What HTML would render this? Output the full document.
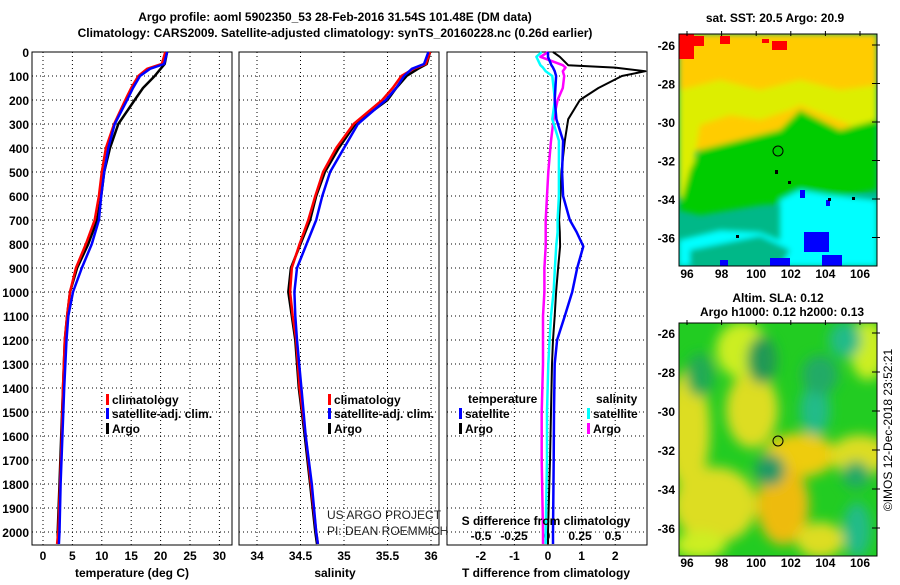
<!DOCTYPE html>
<html><head><meta charset="utf-8">
<style>
body{margin:0;background:#fff;}
svg text{font-family:"Liberation Sans",sans-serif;font-weight:bold;font-size:12px;fill:#000;}
</style></head>
<body>
<svg id="c" width="900" height="580" xmlns="http://www.w3.org/2000/svg">
<defs>
<filter id="bl" x="-20%" y="-20%" width="140%" height="140%"><feGaussianBlur stdDeviation="6"/></filter>
<filter id="bl2"><feGaussianBlur stdDeviation="3"/></filter>
<clipPath id="m1"><rect x="679" y="34" width="198" height="232"/></clipPath>
<clipPath id="m2"><rect x="679" y="323" width="198" height="233"/></clipPath>
</defs>
<text x="335" y="21" text-anchor="middle">Argo profile: aoml 5902350_53 28-Feb-2016 31.54S 101.48E (DM data)</text>
<text x="335" y="37" text-anchor="middle">Climatology: CARS2009. Satellite-adjusted climatology: synTS_20160228.nc (0.26d earlier)</text>

<g clip-path="url(#m1)">
<rect x="679" y="34" width="198" height="232" fill="#00b888"/>
<g filter="url(#bl2)">
<polygon points="679,34 877,34 877,130 840,140 800,120 780,130 740,140 700,150 679,160" fill="#ffcc00"/>
<polygon points="679,90 720,80 760,90 800,80 840,90 877,85 877,140 850,125 800,105 790,110 760,120 730,115 700,125 690,190 679,200" fill="#ddee00"/>
<polygon points="679,210 690,170 700,150 740,140 780,130 800,110 840,130 877,120 877,190 820,200 760,205 700,215" fill="#00cc00"/>
<polygon points="780,200 800,190 830,195 877,200 877,266 780,266" fill="#00ffff"/>
<polygon points="679,240 720,230 760,232 780,240 780,266 679,266" fill="#00ffff"/>
<polygon points="690,250 760,236 790,250 780,266 690,266" fill="#00b888"/>
</g>
<rect x="679" y="34" width="15" height="25" fill="#ff0000"/><rect x="694" y="36" width="10" height="10" fill="#ff0000"/>
<rect x="720" y="36" width="10" height="8" fill="#ff0000"/><rect x="772" y="41" width="15" height="9" fill="#ff0000"/><rect x="762" y="39" width="7" height="4" fill="#ff0000"/>
<rect x="804" y="232" width="25" height="20" fill="#0000ff"/><rect x="822" y="255" width="20" height="11" fill="#0000ff"/><rect x="770" y="258" width="20" height="8" fill="#0000ff"/>
<rect x="800" y="190" width="5" height="8" fill="#0000ff"/><rect x="826" y="200" width="4" height="6" fill="#0000ff"/><rect x="720" y="260" width="8" height="6" fill="#0000ff"/>
<rect x="775" y="170" width="3" height="4" fill="#000"/><rect x="788" y="181" width="3" height="3" fill="#000"/><rect x="828" y="198" width="3" height="3" fill="#000"/><rect x="852" y="197" width="3" height="3" fill="#000"/><rect x="736" y="235" width="3" height="3" fill="#000"/>
</g>
<rect x="679" y="34" width="198" height="232" fill="none" stroke="#000"/>
<circle cx="778" cy="151" r="5" fill="none" stroke="#000"/>
<text x="775" y="22" text-anchor="middle">sat. SST: 20.5 Argo: 20.9</text>

<g clip-path="url(#m2)">
<rect x="679" y="323" width="198" height="233" fill="#22cc22"/>
<g filter="url(#bl)">
<ellipse cx="688" cy="430" rx="22" ry="60" fill="#dddd22"/>
<ellipse cx="742" cy="350" rx="26" ry="28" fill="#ccee22"/>
<ellipse cx="752" cy="410" rx="26" ry="38" fill="#dddd22"/>
<ellipse cx="800" cy="455" rx="36" ry="22" fill="#eecc11"/>
<ellipse cx="715" cy="505" rx="42" ry="38" fill="#dddd22"/>
<ellipse cx="783" cy="505" rx="26" ry="40" fill="#eebb11"/>
<ellipse cx="860" cy="455" rx="30" ry="20" fill="#dddd22"/>
<ellipse cx="868" cy="350" rx="18" ry="30" fill="#ccee22"/>
<ellipse cx="700" cy="545" rx="26" ry="14" fill="#ccee22"/>
<ellipse cx="820" cy="540" rx="24" ry="18" fill="#dddd22"/>
<ellipse cx="762" cy="360" rx="15" ry="24" fill="#229955"/>
<ellipse cx="815" cy="410" rx="15" ry="26" fill="#22bb88"/>
<ellipse cx="845" cy="340" rx="16" ry="18" fill="#22bb88"/>
<ellipse cx="770" cy="470" rx="15" ry="16" fill="#229966"/>
<ellipse cx="857" cy="530" rx="14" ry="28" fill="#22bb88"/>
<ellipse cx="700" cy="375" rx="14" ry="22" fill="#22aa55"/>
<ellipse cx="820" cy="375" rx="18" ry="20" fill="#22aa66"/>
<ellipse cx="856" cy="475" rx="14" ry="14" fill="#22aa66"/>
</g>
</g>
<rect x="679" y="323" width="198" height="233" fill="none" stroke="#000"/>
<circle cx="778" cy="441" r="5" fill="none" stroke="#000"/>
<text x="778" y="302" text-anchor="middle">Altim. SLA: 0.12</text>
<text x="782" y="316" text-anchor="middle">Argo h1000: 0.12 h2000: 0.13</text>
<text transform="translate(892,430) rotate(-90)" text-anchor="middle" style="font-weight:normal;font-size:12px">©IMOS 12-Dec-2018 23:52:21</text>
<g id="mapaxes"></g>
<g id="plots"></g>
</svg>
<script>
// depth levels (dbar)
const depths=[0,50,70,100,150,200,300,400,500,600,700,800,900,1000,1100,1200,1400,1600,1800,2000,2050];
// temperature (deg C)
const tempClim=[20.8,20.2,17.7,16.2,15.0,14.0,12.1,10.7,10.0,9.5,8.8,7.3,5.6,4.6,4.1,3.7,3.4,3.2,2.9,2.6,2.4];
const tempSat=[21.1,20.6,18.2,16.5,15.3,14.3,12.2,11.1,10.4,9.9,9.5,8.3,6.6,5.1,4.3,4.0,3.6,3.3,3.0,2.8,2.7];
const tempArgo=[21.1,20.7,20.0,19.0,17.0,15.6,12.8,11.4,10.4,9.9,9.2,7.7,5.8,4.6,4.1,3.7,3.4,3.1,2.8,2.5,2.5];
// salinity
const salClim=[35.99,35.94,35.80,35.66,35.56,35.44,35.11,34.91,34.76,34.67,34.59,34.49,34.40,34.38,34.41,34.45,34.49,34.56,34.62,34.68,34.70];
const salSat=[35.97,35.92,35.78,35.69,35.60,35.48,35.16,35.00,34.84,34.75,34.68,34.57,34.46,34.43,34.44,34.46,34.51,34.56,34.63,34.68,34.70];
const salArgo=[35.99,35.95,35.85,35.72,35.60,35.50,35.13,34.94,34.78,34.68,34.61,34.50,34.39,34.36,34.40,34.44,34.48,34.55,34.61,34.67,34.69];
// differences from climatology
const diffDepths=[0,20,55,65,80,100,150,200,280,370,500,600,700,750,810,900,1000,1100,1200,1300,1500,1700,2000,2050];
const dTArgo=[0.15,0.35,0.6,2.0,2.9,2.2,1.5,0.95,0.6,0.5,0.4,0.37,0.33,0.35,0.36,0.3,0.24,0.2,0.15,0.12,0.09,0.06,0.0,0.0];
const dTSat=[0.0,0.0,0.1,0.15,0.2,0.24,0.22,0.2,0.25,0.45,0.42,0.45,0.65,0.85,1.05,0.87,0.72,0.5,0.27,0.2,0.18,0.17,0.15,0.15];
const dSArgo=[0.01,-0.05,0.12,0.14,0.12,0.13,0.12,0.08,0.05,0.03,0.01,0.0,-0.01,-0.01,-0.01,-0.02,-0.02,-0.03,-0.03,-0.03,-0.04,-0.04,-0.03,-0.03];
const dSSat=[-0.04,-0.08,-0.05,-0.03,-0.01,0.04,0.05,0.06,0.04,0.09,0.09,0.09,0.08,0.08,0.07,0.06,0.05,0.03,0.02,0.01,0.0,0.0,-0.01,-0.01];
// tick labels
const depthTicks=[0,100,200,300,400,500,600,700,800,900,1000,1100,1200,1300,1400,1500,1600,1700,1800,1900,2000];
const tempTicks=[0,5,10,15,20,25,30];
const salTicks=[34,34.5,35,35.5,36];
const dTTicks=[-2,-1,0,1,2];
const dSTicks=[-0.5,-0.25,0,0.25,0.5];
const latTicks=[-26,-28,-30,-32,-34,-36];
const lonTicks=[96,98,100,102,104,106];

const NS='http://www.w3.org/2000/svg';
const P=document.getElementById('plots');
function mk(tag,at,parent){const e=document.createElementNS(NS,tag);for(const k in at)e.setAttribute(k,at[k]);(parent||P).appendChild(e);return e;}
const yTop=52,yBot=545;
const yD=d=>yTop+0.24*d;
const xT=t=>43+5.88*t;
const xS=s=>257+87*(s-34);
const xDT=t=>548+33.6*t;
const xDS=s=>547+132*s;
const panels=[[32,232],[239,439],[447,647]];
panels.forEach(p=>{
  depthTicks.forEach(d=>{const l=mk('line',{x1:p[0],x2:p[1],y1:yD(d),y2:yD(d),stroke:'#000','stroke-dasharray':'1,3','stroke-width':1});
  
  });
});
tempTicks.forEach(t=>{const l=mk('line',{x1:xT(t),x2:xT(t),y1:yTop,y2:yBot,stroke:'#000','stroke-dasharray':'1,3'});


const tx=mk('text',{x:xT(t),y:560,'text-anchor':'middle'});tx.textContent=t;

});
salTicks.forEach(s=>{const l=mk('line',{x1:xS(s),x2:xS(s),y1:yTop,y2:yBot,stroke:'#000','stroke-dasharray':'1,3'});


const tx=mk('text',{x:xS(s),y:560,'text-anchor':'middle'});tx.textContent=s;

});
dTTicks.forEach(t=>{const l=mk('line',{x1:xDT(t),x2:xDT(t),y1:yTop,y2:yBot,stroke:'#000','stroke-dasharray':'1,3'});


const tx=mk('text',{x:xDT(t),y:560,'text-anchor':'middle'});tx.textContent=t;

});
dSTicks.forEach(s=>{const tx=mk('text',{x:xDS(s),y:540,'text-anchor':'middle'});tx.textContent=s;

});
depthTicks.forEach(d=>{const tx=mk('text',{x:29,y:yD(d)+5,'text-anchor':'end'});tx.textContent=d;

});
panels.forEach(p=>{const r=mk('rect',{x:p[0],y:yTop,width:p[1]-p[0],height:yBot-yTop,fill:'none',stroke:'#000'});

});
function line(xs,ys,fx,color,name,w){
  const pts=xs.map((v,i)=>fx(v).toFixed(1)+','+yD(ys[i]).toFixed(1)).join(' ');
  const pl=mk('polyline',{points:pts,fill:'none',stroke:color,'stroke-width':w||2.5,'stroke-linejoin':'round'});
  
  
}
line(tempArgo,depths,xT,'#000','temp-argo-line');
line(tempClim,depths,xT,'#f00','temp-climatology-line');
line(tempSat,depths,xT,'#00f','temp-satellite-line');
line(salArgo,depths,xS,'#000','salinity-argo-line');
line(salClim,depths,xS,'#f00','salinity-climatology-line');
line(salSat,depths,xS,'#00f','salinity-satellite-line');
line(dTArgo,diffDepths,xDT,'#000','tdiff-argo-line',2);
line(dSArgo,diffDepths,xDS,'#f0f','sdiff-argo-line');
line(dSSat,diffDepths,xDS,'#0ff','sdiff-satellite-line');
line(dTSat,diffDepths,xDT,'#00f','tdiff-satellite-line');
function txt(x,y,s,name,anchor,style){const t=mk('text',{x:x,y:y,'text-anchor':anchor||'start'});if(style)t.setAttribute('style',style);t.textContent=s;

return t;}
function leg(x,y,color,label,name){const r=mk('rect',{x:x,y:y-10,width:3,height:11,fill:color});


txt(x+6,y,label,name);}
[106,328].forEach((px,i)=>{const pre=i?'salinity':'temp';
leg(px,404,'#f00','climatology',pre+'-legend-climatology');
leg(px,418,'#00f','satellite-adj. clim.',pre+'-legend-satellite');
leg(px,433,'#000','Argo',pre+'-legend-argo');});
txt(468,403,'temperature','diff-legend-temperature-header');
leg(459,418,'#00f','satellite','diff-legend-temp-satellite');
leg(459,433,'#000','Argo','diff-legend-temp-argo');
txt(596,403,'salinity','diff-legend-salinity-header');
leg(587,418,'#0ff','satellite','diff-legend-sal-satellite');
leg(587,433,'#f0f','Argo','diff-legend-sal-argo');
txt(546,525,'S difference from climatology','sdiff-axis-title','middle');
txt(327,519,'US ARGO PROJECT','project-credit','start','font-weight:normal;font-size:12px;fill:#222');
txt(327,535,'PI: DEAN ROEMMICH','pi-credit','start','font-weight:normal;font-size:12px;fill:#222');
txt(132,577,'temperature (deg C)','temp-axis-title','middle');
txt(335,577,'salinity','salinity-axis-title','middle');
txt(546,577,'T difference from climatology','tdiff-axis-title','middle');
const MA=document.getElementById('mapaxes');
[[34,266,45,38.5,278],[323,556,333,39,567]].forEach(m=>{
  latTicks.forEach(la=>{const y=m[2]+(-26-la)/2*m[3];
    const t=mk('text',{x:675,y:y+5,'text-anchor':'end'},MA);t.textContent=la;
    
    
    mk('line',{x1:872,x2:880,y1:y,y2:y,stroke:'#000'},MA);});
  lonTicks.forEach(lo=>{const x=687+(lo-96)*17.3;
    const t=mk('text',{x:x,y:m[4],'text-anchor':'middle'},MA);t.textContent=lo;
    
    
    mk('line',{x1:x,x2:x,y1:m[0]-3,y2:m[0]+2,stroke:'#000'},MA);});
});
</script>
</body></html>
